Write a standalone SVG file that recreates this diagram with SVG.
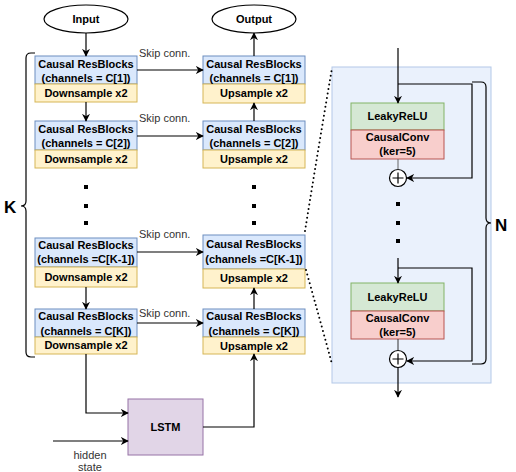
<svg xmlns="http://www.w3.org/2000/svg" width="516" height="472" viewBox="0 0 516 472">
<defs>
<marker id="ah" viewBox="0 0 10 10" refX="9" refY="5" markerWidth="8" markerHeight="8" markerUnits="userSpaceOnUse" orient="auto">
<path d="M0,0 L10,5 L0,10 L3,5 z" fill="#000"/>
</marker>
<style>
.t{font-family:"Liberation Sans",Arial,sans-serif;font-size:11px;font-weight:bold;fill:#000;text-anchor:middle}
.s{font-family:"Liberation Sans",Arial,sans-serif;font-size:11px;fill:#333;}
.blue{fill:#dae8fc;stroke:#6c8ebf;stroke-width:1}
.yel{fill:#fff2cc;stroke:#d6b656;stroke-width:1}
.grn{fill:#d5e8d4;stroke:#82b366;stroke-width:1}
.red{fill:#f8cecc;stroke:#b85450;stroke-width:1}
.ln{fill:none;stroke:#000;stroke-width:1.2}
.ar{fill:none;stroke:#000;stroke-width:1.2;marker-end:url(#ah)}
.dot{fill:none;stroke:#000;stroke-width:2;stroke-dasharray:0 4.5;stroke-linecap:round}
.sq{fill:#000}
</style>
</defs>

<g id="panel">
<rect x="332" y="67" width="159" height="316" fill="#eaf1fc" stroke="#b3c8e8" stroke-width="1"/>
</g>

<g id="input">
<ellipse cx="86" cy="19" rx="42" ry="14" fill="#fff" stroke="#000" stroke-width="1.2"/>
<text class="t" x="86" y="23">Input</text>
</g>
<g id="output">
<ellipse cx="254" cy="19" rx="42" ry="14" fill="#fff" stroke="#000" stroke-width="1.2"/>
<text class="t" x="254" y="23">Output</text>
</g>

<g id="enc1">
<rect class="blue" x="35" y="56" width="102" height="28"/>
<rect class="yel" x="35" y="84" width="102" height="18"/>
<text class="t" x="86" y="68">Causal ResBlocks</text>
<text class="t" x="86" y="82">(channels = C[1])</text>
<text class="t" x="86" y="97">Downsample x2</text>
</g>
<g id="enc2">
<rect class="blue" x="35" y="121" width="102" height="29"/>
<rect class="yel" x="35" y="150" width="102" height="18"/>
<text class="t" x="86" y="133">Causal ResBlocks</text>
<text class="t" x="86" y="147">(channels = C[2])</text>
<text class="t" x="86" y="163">Downsample x2</text>
</g>
<g id="encK1">
<rect class="blue" x="35" y="238" width="102" height="29"/>
<rect class="yel" x="35" y="267" width="102" height="20"/>
<text class="t" x="86" y="249">Causal ResBlocks</text>
<text class="t" x="86" y="263">(channels =C[K-1])</text>
<text class="t" x="86" y="281">Downsample x2</text>
</g>
<g id="encK">
<rect class="blue" x="35" y="309" width="102" height="28"/>
<rect class="yel" x="35" y="337" width="102" height="17"/>
<text class="t" x="86" y="320">Causal ResBlocks</text>
<text class="t" x="86" y="335">(channels = C[K])</text>
<text class="t" x="86" y="349">Downsample x2</text>
</g>

<g id="dec1">
<rect class="blue" x="203" y="56" width="102" height="28"/>
<rect class="yel" x="203" y="84" width="102" height="19"/>
<text class="t" x="254" y="68">Causal ResBlocks</text>
<text class="t" x="254" y="82">(channels = C[1])</text>
<text class="t" x="254" y="97">Upsample x2</text>
</g>
<g id="dec2">
<rect class="blue" x="203" y="121" width="102" height="29"/>
<rect class="yel" x="203" y="150" width="102" height="18"/>
<text class="t" x="254" y="133">Causal ResBlocks</text>
<text class="t" x="254" y="147">(channels = C[2])</text>
<text class="t" x="254" y="163">Upsample x2</text>
</g>
<g id="decK1">
<rect class="blue" x="203" y="235" width="102" height="34"/>
<rect class="yel" x="203" y="269" width="102" height="19"/>
<text class="t" x="254" y="248">Causal ResBlocks</text>
<text class="t" x="254" y="263">(channels =C[K-1])</text>
<text class="t" x="254" y="282">Upsample x2</text>
</g>
<g id="decK">
<rect class="blue" x="203" y="309" width="102" height="28"/>
<rect class="yel" x="203" y="337" width="102" height="17"/>
<text class="t" x="254" y="320">Causal ResBlocks</text>
<text class="t" x="254" y="335">(channels = C[K])</text>
<text class="t" x="254" y="350">Upsample x2</text>
</g>

<g id="lstm">
<rect x="128" y="399" width="75" height="56" fill="#e1d5e7" stroke="#9673a6" stroke-width="1"/>
<text class="t" x="165.5" y="431">LSTM</text>
</g>

<g id="leaky1">
<rect class="grn" x="351" y="103" width="93" height="27"/>
<text class="t" x="397.5" y="120">LeakyReLU</text>
</g>
<g id="conv1">
<rect class="red" x="351" y="130" width="93" height="29"/>
<text class="t" x="397.5" y="141">CausalConv</text>
<text class="t" x="397.5" y="155">(ker=5)</text>
</g>
<g id="plus1">
<circle cx="398" cy="178" r="8.5" fill="#fff" stroke="#000" stroke-width="1.2"/>
<path d="M392.5,178 H403.5 M398,172.5 V183.5" stroke="#000" stroke-width="1.2"/>
</g>
<g id="leaky2">
<rect class="grn" x="351" y="283" width="93" height="28"/>
<text class="t" x="397.5" y="301">LeakyReLU</text>
</g>
<g id="conv2">
<rect class="red" x="351" y="311" width="93" height="28"/>
<text class="t" x="397.5" y="322">CausalConv</text>
<text class="t" x="397.5" y="336">(ker=5)</text>
</g>
<g id="plus2">
<circle cx="398" cy="359" r="8.5" fill="#fff" stroke="#000" stroke-width="1.2"/>
<path d="M392.5,359 H403.5 M398,353.5 V364.5" stroke="#000" stroke-width="1.2"/>
</g>

<g id="labels">
<text class="s" x="139" y="57">Skip conn.</text>
<text class="s" x="139" y="122">Skip conn.</text>
<text class="s" x="139" y="238">Skip conn.</text>
<text class="s" x="139" y="317">Skip conn.</text>
<text class="s" x="90" y="459" text-anchor="middle">hidden</text>
<text class="s" x="90" y="471" text-anchor="middle">state</text>
<text x="4" y="213" font-family="'Liberation Sans',Arial,sans-serif" font-size="17" font-weight="bold">K</text>
<text x="495" y="231" font-family="'Liberation Sans',Arial,sans-serif" font-size="17" font-weight="bold">N</text>
</g>

<g id="dots">
<rect class="sq" x="84" y="185" width="4" height="4"/>
<rect class="sq" x="84" y="204" width="4" height="4"/>
<rect class="sq" x="84" y="221" width="4" height="4"/>
<rect class="sq" x="252" y="185" width="4" height="4"/>
<rect class="sq" x="252" y="204" width="4" height="4"/>
<rect class="sq" x="252" y="221" width="4" height="4"/>
<rect class="sq" x="396" y="202" width="4" height="4"/>
<rect class="sq" x="396" y="221" width="4" height="4"/>
<rect class="sq" x="396" y="239" width="4" height="4"/>
</g>

<g id="connectors">
<path class="ar" d="M86,33 V56"/>
<path class="ar" d="M254,56 V33"/>
<path class="ar" d="M137,70 H203"/>
<path class="ar" d="M137,136 H203"/>
<path class="ar" d="M137,252 H203"/>
<path class="ar" d="M137,323 H203"/>
<path class="ar" d="M86,102 V121"/>
<path class="ar" d="M86,287 V309"/>
<path class="ar" d="M254,121 V103"/>
<path class="ar" d="M254,309 V288"/>
<path class="ar" d="M86,354 V413 H128"/>
<path class="ar" d="M53,441 H128"/>
<path class="ar" d="M203,427 H254 V354"/>
<path class="ar" d="M398,48 V103"/>
<path class="ar" d="M398,84 H472 V178 H407"/>
<path d="M398,159 V169.5" stroke="#666" stroke-width="1" fill="none"/>
<path class="ar" d="M398,258 V283"/>
<path class="ar" d="M398,268 H472 V361 H407"/>
<path d="M398,339 V350.5" stroke="#333" stroke-width="1" fill="none"/>
<path class="ar" d="M398,367.5 V397"/>
<path class="ln" d="M35,53 H31 Q26,53 26,58 V201 Q26,206 21,206 Q26,206 26,211 V352 Q26,357 31,357 H35"/>
<path class="ln" d="M472,82 H481 Q486,82 486,87 V218 Q486,223 491,223 Q486,223 486,228 V359 Q486,364 481,364 H472"/>
<path class="dot" d="M305,231 Q318,150 332,68"/>
<path class="dot" d="M306,270 Q320,320 332,364"/>
</g>
</svg>
